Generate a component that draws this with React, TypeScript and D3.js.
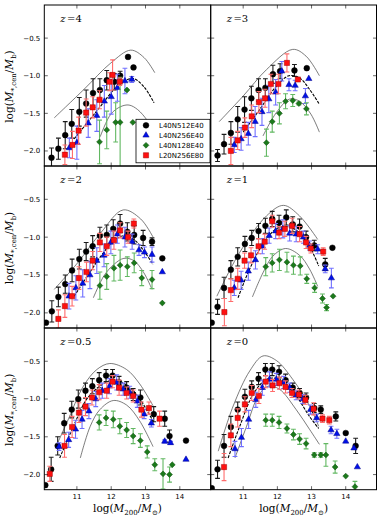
import * as d3 from "d3";

// each point: [log M200, log(M*cen/Mb), error]
const z4Black = [[10.26,-2.09,0.13],[10.46,-1.97,0.14],[10.66,-1.79,0.18],[10.85,-1.64,0.19],[11.07,-1.48,0.19],[11.27,-1.37,0.18],[11.47,-1.23,0.19],[11.67,-1.19,0.15],[11.87,-1.06,0.13],[12.09,-1.08,0.11],[12.26,-1.0,0.06],[12.49,-0.75,0],[12.65,-0.89,0]];
const z4Blue = [[10.78,-1.96,0.13],[11.0,-1.89,0.22],[11.33,-1.63,0.19],[11.58,-1.53,0.21],[11.8,-1.34,0.21],[12.0,-1.28,0.23],[12.18,-1.16,0.18],[12.4,-1.07,0.17],[12.6,-1.05,0.04]];
const z4Green = [[11.66,-1.88,0.29],[11.87,-1.72,0.25],[12.13,-1.62,0.26],[12.26,-1.62,0.6],[12.46,-1.19,0],[12.63,-1.62,0]];
const z4Red = [[10.65,-2.05,0.13],[10.87,-1.92,0.18],[11.05,-1.73,0.18],[11.27,-1.49,0.18],[11.46,-1.42,0.14],[11.66,-1.32,0.12],[11.95,-1.08,0.12],[12.04,-0.99,0.2],[12.25,-1.08,0.05]];

const z3Black = [[10.25,-2.06,0.08],[10.44,-1.91,0.13],[10.64,-1.76,0.15],[10.84,-1.58,0.17],[11.04,-1.45,0.17],[11.24,-1.3,0.16],[11.45,-1.19,0.15],[11.65,-1.16,0.12],[11.87,-0.98,0.12],[12.08,-0.94,0.1],[12.5,-0.93,0.08],[12.86,-0.9,0]];
const z3Blue = [[10.74,-1.92,0.1],[10.94,-1.84,0.15],[11.15,-1.77,0.15],[11.35,-1.61,0.2],[11.55,-1.48,0.18],[11.75,-1.31,0.18],[11.95,-1.22,0.17],[12.13,-0.94,0.13],[12.34,-1.12,0.08],[12.52,-1.13,0.07],[12.82,-1.27,0.1],[12.92,-1.04,0]];
const z3Green = [[11.68,-1.89,0.18],[11.85,-1.61,0.14],[12.06,-1.5,0.14],[12.24,-1.34,0.1],[12.45,-1.33,0.08],[12.63,-1.37,0.02],[12.85,-1.44,0.08]];
const z3Red = [[10.64,-2.0,0.18],[10.84,-1.86,0.12],[11.05,-1.69,0.13],[11.25,-1.54,0.15],[11.46,-1.35,0.14],[11.64,-1.3,0.12],[11.81,-1.11,0.13],[12.03,-1.11,0.13],[12.28,-0.83,0.12],[12.6,-1.05,0.02]];

const z2Black = [[10.1,-2.13,0],[10.27,-1.98,0.14],[10.46,-1.79,0.13],[10.66,-1.62,0.12],[10.86,-1.44,0.15],[11.07,-1.29,0.13],[11.27,-1.19,0.12],[11.46,-1.12,0.14],[11.67,-0.98,0.11],[11.87,-0.97,0.13],[12.06,-0.89,0.12],[12.26,-0.82,0.12],[12.47,-0.93,0.12],[12.67,-0.97,0.12],[12.93,-1.01,0.1],[13.19,-1.06,0.05],[13.49,-1.28,0]];
const z2Blue = [[10.77,-1.78,0.17],[10.97,-1.67,0.16],[11.17,-1.61,0.18],[11.38,-1.5,0.18],[11.58,-1.31,0.17],[11.79,-1.24,0.15],[11.99,-1.07,0.15],[12.18,-0.96,0.12],[12.4,-1.0,0.13],[12.61,-1.06,0.1],[12.81,-1.17,0.07],[12.97,-1.2,0.07],[13.19,-1.23,0.1],[13.49,-1.46,0]];
const z2Green = [[11.67,-1.64,0.18],[11.87,-1.52,0.17],[12.08,-1.41,0.17],[12.26,-1.37,0.2],[12.47,-1.39,0.13],[12.67,-1.34,0.13],[12.89,-1.54,0.1],[13.19,-1.56,0.12],[13.49,-1.87,0]];
const z2Red = [[10.46,-2.08,0.12],[10.65,-1.91,0.15],[10.86,-1.78,0.13],[11.06,-1.54,0.15],[11.28,-1.46,0.13],[11.46,-1.31,0.12],[11.67,-1.07,0.12],[11.87,-1.12,0.12],[12.08,-1.04,0.12],[12.26,-0.91,0.1],[12.49,-1.0,0.08],[12.66,-0.82,0.06]];

const z1Black = [[10.08,-2.13,0],[10.25,-1.92,0.1],[10.44,-1.67,0.14],[10.64,-1.43,0.12],[10.84,-1.26,0.12],[11.05,-1.09,0.1],[11.25,-1.01,0.1],[11.45,-0.92,0.1],[11.65,-0.85,0.1],[11.85,-0.76,0.1],[12.05,-0.81,0.1],[12.26,-0.74,0.1],[12.45,-0.83,0.1],[12.65,-0.86,0.1],[12.84,-1.0,0.08],[13.08,-1.11,0.07],[13.4,-1.36,0.08],[13.61,-1.14,0]];
const z1Blue = [[10.74,-1.67,0.1],[10.94,-1.57,0.12],[11.15,-1.45,0.12],[11.36,-1.3,0.12],[11.56,-1.12,0.1],[11.76,-0.98,0.1],[11.95,-0.92,0.1],[12.16,-0.89,0.12],[12.36,-0.95,0.1],[12.55,-0.96,0.1],[12.76,-1.0,0.08],[12.94,-1.11,0.06],[13.18,-1.16,0.06],[13.4,-1.42,0.05],[13.58,-1.54,0.13]];
const z1Green = [[11.66,-1.39,0.12],[11.85,-1.34,0.12],[12.06,-1.3,0.14],[12.28,-1.33,0.13],[12.47,-1.37,0.12],[12.67,-1.38,0.12],[12.86,-1.55,0.06],[13.09,-1.67,0.06],[13.32,-1.81,0.06],[13.44,-1.93,0.04],[13.63,-1.78,0]];
const z1Red = [[10.45,-1.99,0.18],[10.64,-1.7,0.15],[10.84,-1.55,0.14],[11.04,-1.31,0.1],[11.23,-1.24,0.1],[11.45,-1.12,0.1],[11.63,-1.06,0.1],[11.85,-0.79,0.08],[12.05,-0.94,0.08],[12.22,-0.89,0.1],[12.43,-0.85,0.1],[12.65,-0.96,0.1],[12.84,-1.07,0.08],[12.98,-1.15,0.06],[13.34,-1.19,0.05]];

const z05Black = [[10.08,-2.14,0],[10.25,-1.93,0.16],[10.44,-1.62,0.12],[10.63,-1.32,0.13],[10.85,-1.14,0.11],[11.04,-1.0,0.12],[11.25,-0.89,0.1],[11.45,-0.83,0.1],[11.65,-0.75,0.1],[11.85,-0.69,0.08],[12.04,-0.69,0.08],[12.23,-0.78,0.08],[12.45,-0.85,0.08],[12.64,-0.94,0.08],[12.85,-0.98,0.1],[13.24,-1.2,0.1],[13.56,-1.26,0.1],[13.7,-1.49,0.08],[14.18,-1.55,0]];
const z05Blue = [[10.48,-1.63,0.05],[10.76,-1.54,0.1],[10.96,-1.4,0.12],[11.15,-1.27,0.12],[11.35,-1.16,0.1],[11.55,-1.0,0.1],[11.74,-0.89,0.1],[11.95,-0.83,0.1],[12.16,-0.78,0.1],[12.35,-0.87,0.08],[12.54,-0.91,0.08],[12.76,-1.03,0.08],[12.96,-1.2,0.06],[13.17,-1.32,0.05],[13.56,-1.56,0.02],[13.73,-1.58,0.02],[14.18,-1.8,0]];
const z05Green = [[11.65,-1.31,0.1],[11.85,-1.25,0.1],[12.06,-1.27,0.11],[12.25,-1.36,0.1],[12.45,-1.41,0.1],[12.64,-1.49,0.1],[12.85,-1.55,0.09],[13.05,-1.7,0.08],[13.27,-1.87,0.08],[13.51,-1.99,0.2],[13.7,-2.0,0.1],[13.78,-1.87,0]];
const z05Red = [[10.21,-1.99,0.1],[10.64,-1.62,0.15],[10.86,-1.37,0.14],[11.06,-1.18,0.13],[11.25,-1.1,0.12],[11.44,-0.98,0.1],[11.65,-0.91,0.1],[11.87,-0.89,0.1],[12.04,-0.77,0.08],[12.23,-0.85,0.1],[12.45,-0.92,0.08],[12.64,-0.96,0.08],[12.88,-1.14,0.1],[13.1,-1.12,0.08],[13.41,-1.26,0.1]];

const z0Black = [[10.08,-2.18,0],[10.25,-1.93,0.12],[10.44,-1.62,0.15],[10.64,-1.37,0.14],[10.84,-1.14,0.1],[11.05,-0.97,0.1],[11.25,-0.84,0.08],[11.45,-0.73,0.08],[11.65,-0.61,0.08],[11.85,-0.61,0.08],[12.05,-0.64,0.08],[12.24,-0.75,0.08],[12.45,-0.85,0.06],[12.65,-0.92,0.06],[12.84,-0.98,0.06],[13.08,-1.12,0.06],[13.27,-1.14,0.05],[13.71,-1.23,0.06],[14.0,-1.45,0],[14.29,-1.62,0.1]];
const z0Blue = [[10.76,-1.66,0.1],[10.95,-1.51,0.12],[11.16,-1.27,0.12],[11.37,-1.01,0.1],[11.56,-0.85,0.1],[11.77,-0.74,0.1],[11.97,-0.74,0.08],[12.18,-0.78,0.08],[12.36,-0.85,0.06],[12.55,-0.95,0.06],[12.74,-1.0,0.06],[12.97,-1.14,0.06],[13.15,-1.25,0.05],[13.57,-1.41,0.05],[13.74,-1.46,0.06],[14.0,-1.56,0],[14.24,-1.65,0],[14.34,-1.9,0]];
const z0Green = [[11.66,-1.28,0.08],[11.85,-1.28,0.08],[12.05,-1.31,0.08],[12.28,-1.39,0.06],[12.47,-1.47,0.07],[12.65,-1.53,0.07],[12.84,-1.59,0.07],[13.08,-1.74,0.03],[13.27,-1.74,0.03],[13.42,-1.74,0.15],[13.69,-1.9,0.08],[14.0,-2.02,0],[14.27,-2.16,0.07]];
const z0Red = [[10.44,-1.9,0.18],[10.64,-1.48,0.15],[10.84,-1.25,0.12],[11.05,-1.07,0.1],[11.25,-0.92,0.1],[11.46,-0.96,0.1],[11.66,-0.77,0.08],[11.86,-0.82,0.08],[12.06,-0.79,0.08],[12.24,-0.84,0.08],[12.43,-0.92,0.06],[12.63,-0.94,0.06],[12.82,-1.01,0.06],[13.06,-1.13,0.08],[13.32,-1.26,0.05],[13.52,-1.28,0.05]];

// abundance-matching relation (middle) and its envelope
const z4Upper = [[10.34,-1.56],[11.21,-1.18],[11.99,-0.83],[12.57,-0.66],[12.96,-0.76],[13.27,-0.96]];
const z4Mid = [[10.92,-1.84],[11.31,-1.62],[11.7,-1.4],[12.09,-1.18],[12.48,-1.05],[12.67,-1.04],[12.96,-1.15],[13.25,-1.36]];
const z4Low = [[11.68,-1.81],[11.99,-1.51],[12.28,-1.41],[12.52,-1.39],[12.77,-1.45],[13.06,-1.6],[13.25,-1.75]];
const z3Upper = [[10.3,-1.61],[11.0,-1.27],[11.68,-0.92],[12.45,-0.65],[12.84,-0.74],[13.23,-1.0]];
const z3Mid = [[11.0,-1.75],[11.48,-1.45],[11.97,-1.14],[12.34,-1.0],[12.65,-1.03],[12.94,-1.18],[13.23,-1.38]];
const z3Low = [[11.58,-1.8],[11.97,-1.49],[12.36,-1.31],[12.65,-1.34],[12.98,-1.51],[13.23,-1.75]];
const z2Upper = [[10.34,-1.69],[11.02,-1.34],[11.7,-0.94],[12.35,-0.64],[12.86,-0.76],[13.22,-1.0]];
const z2Mid = [[10.92,-1.78],[11.31,-1.51],[11.7,-1.25],[12.08,-1.05],[12.37,-0.98],[12.66,-1.03],[12.95,-1.18],[13.22,-1.36]];
const z2Low = [[11.48,-1.8],[11.79,-1.51],[12.08,-1.36],[12.37,-1.28],[12.66,-1.31],[12.95,-1.47],[13.19,-1.69]];
const z1Upper = [[10.23,-1.78],[10.9,-1.2],[11.68,-0.72],[12.18,-0.58],[12.65,-0.72],[13.18,-1.03]];
const z1Mid = [[10.85,-1.8],[11.19,-1.42],[11.58,-1.09],[11.97,-0.89],[12.31,-0.86],[12.65,-0.94],[12.94,-1.12],[13.21,-1.38]];
const z1Low = [[11.27,-1.79],[11.58,-1.47],[11.87,-1.25],[12.24,-1.15],[12.65,-1.24],[12.94,-1.42],[13.18,-1.65]];
const z05Upper = [[10.37,-1.65],[10.71,-1.31],[11.19,-0.83],[11.58,-0.61],[11.96,-0.53],[12.45,-0.61],[12.83,-0.8],[13.22,-1.09]];
const z05Mid = [[10.5,-1.78],[10.9,-1.36],[11.29,-1.0],[11.67,-0.83],[11.96,-0.76],[12.35,-0.79],[12.74,-0.94],[13.03,-1.14],[13.24,-1.31]];
const z05Low = [[11.1,-1.78],[11.39,-1.36],[11.67,-1.14],[12.06,-1.02],[12.45,-1.08],[12.83,-1.29],[13.22,-1.63]];
const z0Upper = [[10.27,-1.69],[10.71,-1.09],[11.19,-0.63],[11.58,-0.43],[11.97,-0.49],[12.45,-0.74],[12.94,-1.09],[13.21,-1.36]];
const z0Mid = [[10.56,-1.78],[10.9,-1.36],[11.29,-0.94],[11.68,-0.74],[12.06,-0.74],[12.55,-0.96],[12.94,-1.23],[13.21,-1.39]];
const z0Low = [[10.76,-1.78],[11.1,-1.36],[11.44,-0.96],[11.73,-0.83],[12.06,-0.87],[12.55,-1.14],[12.94,-1.4],[13.23,-1.6]];

const redshifts = ["4", "3", "2", "1", "0.5", "0"];
const seriesNames = ["L40N512E40", "L40N256E40", "L40N128E40", "L20N256E80"];
const xTicks = [11, 12, 13, 14];
const yTicks = [-2.0, -1.5, -1.0, -0.5];

const panels = [
  { pts: [z4Black, z4Blue, z4Green, z4Red], curves: [z4Upper, z4Mid, z4Low] },
  { pts: [z3Black, z3Blue, z3Green, z3Red], curves: [z3Upper, z3Mid, z3Low] },
  { pts: [z2Black, z2Blue, z2Green, z2Red], curves: [z2Upper, z2Mid, z2Low] },
  { pts: [z1Black, z1Blue, z1Green, z1Red], curves: [z1Upper, z1Mid, z1Low] },
  { pts: [z05Black, z05Blue, z05Green, z05Red], curves: [z05Upper, z05Mid, z05Low] },
  { pts: [z0Black, z0Blue, z0Green, z0Red], curves: [z0Upper, z0Mid, z0Low] },
];

const colEdges = [44.3, 210.7, 376.5];
const rowEdges = [5, 166, 328, 489.7];

const styles = [
  { type: d3.symbolCircle, size: 26, rot: 0, fill: "#000", stroke: "#000", bar: "#1a1a1a" },
  { type: d3.symbolTriangle, size: 17, rot: 0, fill: "#0010e8", stroke: "#00008b", bar: "#6f6fff" },
  { type: d3.symbolSquare, size: 17, rot: 45, fill: "#1b7a1b", stroke: "#0b4d0b", bar: "#62b862" },
  { type: d3.symbolSquare, size: 27, rot: 0, fill: "#ff1010", stroke: "#a00000", bar: "#ff6c6c" },
];

const fmt = d3.format(".1f");
const serif = "'DejaVu Serif', serif";
const sans = "'DejaVu Sans', sans-serif";

function Panel({ i }: { i: number }) {
  const col = i % 2;
  const row = Math.floor(i / 2);
  const x0 = colEdges[col], x1 = colEdges[col + 1];
  const y0 = rowEdges[row], y1 = rowEdges[row + 1];
  const xs = d3.scaleLinear().domain([10.05, 14.9]).range([x0, x1]);
  const ys = d3.scaleLinear().domain([-2.2, -0.06]).range([y1, y0]);
  const line = d3
    .line<number[]>()
    .x((d) => xs(d[0]))
    .y((d) => ys(d[1]))
    .curve(d3.curveCatmullRom.alpha(0.5));
  const p = panels[i];
  const clip = `clip${i}`;
  const tl = 3.5;

  return (
    <g>
      <clipPath id={clip}>
        <rect x={x0} y={y0} width={x1 - x0} height={y1 - y0} />
      </clipPath>
      <g clipPath={`url(#${clip})`}>
        {p.curves.map((c, k) => (
          <path
            key={k}
            d={line(c) || ""}
            fill="none"
            stroke={k === 1 ? "#000" : "#444"}
            strokeWidth={k === 1 ? 1.1 : 0.7}
            strokeDasharray={k === 1 ? "3,1.2" : undefined}
          />
        ))}
        {p.pts.map((ser, s) => {
          const st = styles[s];
          const sym = d3.symbol().type(st.type).size(st.size)() || "";
          return (
            <g key={s}>
              {ser.filter((d) => d[2] > 0).map((d, k) => {
                const cx = xs(d[0]);
                const ya = ys(d[1] + d[2]);
                const yb = ys(d[1] - d[2]);
                return (
                  <g key={k} stroke={st.bar} strokeWidth={1.1}>
                    <line x1={cx} x2={cx} y1={ya} y2={yb} />
                    <line x1={cx - 2.4} x2={cx + 2.4} y1={ya} y2={ya} />
                    <line x1={cx - 2.4} x2={cx + 2.4} y1={yb} y2={yb} />
                  </g>
                );
              })}
              {ser.map((d, k) => (
                <path
                  key={k}
                  d={sym}
                  transform={`translate(${xs(d[0])},${ys(d[1])}) rotate(${st.rot})`}
                  fill={st.fill}
                  stroke={st.stroke}
                  strokeWidth={0.5}
                />
              ))}
            </g>
          );
        })}
      </g>
      <rect x={x0} y={y0} width={x1 - x0} height={y1 - y0} fill="none" stroke="#000" strokeWidth={1} />
      {xTicks.map((t) => (
        <g key={t} stroke="#000" strokeWidth={0.6}>
          <line x1={xs(t)} x2={xs(t)} y1={y1} y2={y1 - tl} />
          <line x1={xs(t)} x2={xs(t)} y1={y0} y2={y0 + tl} />
        </g>
      ))}
      {yTicks.map((t) => (
        <g key={t} stroke="#000" strokeWidth={0.6}>
          <line x1={x0} x2={x0 + tl} y1={ys(t)} y2={ys(t)} />
          <line x1={x1} x2={x1 - tl} y1={ys(t)} y2={ys(t)} />
        </g>
      ))}
      {col === 0 &&
        yTicks.map((t) => (
          <text key={t} x={x0 - 4} y={ys(t)} dy="0.35em" textAnchor="end" fontSize={7} fontFamily={sans}>
            {fmt(t)}
          </text>
        ))}
      {row === 2 &&
        xTicks.map((t) => (
          <text key={t} x={xs(t)} y={y1 + 9} textAnchor="middle" fontSize={7} fontFamily={sans}>
            {t}
          </text>
        ))}
      <text x={x0 + 16} y={y0 + 16.5} fontSize={10} fontFamily={serif}>
        <tspan fontStyle="italic">z</tspan>
        <tspan dx={1.5}>=</tspan>
        <tspan>{redshifts[i]}</tspan>
      </text>
      {col === 0 && (
        <text
          transform={`translate(13,${(y0 + y1) / 2 + 1}) rotate(-90)`}
          textAnchor="middle"
          fontSize={10.5}
          fontFamily={serif}
        >
          log(<tspan fontStyle="italic">M</tspan>
          <tspan fontSize={7} dy={2.5}>*,cen</tspan>
          <tspan dy={-2.5}>/</tspan>
          <tspan fontStyle="italic">M</tspan>
          <tspan fontSize={7} dy={2.5}>b</tspan>
          <tspan dy={-2.5}>)</tspan>
        </text>
      )}
      {row === 2 && (
        <text x={(x0 + x1) / 2} y={512} textAnchor="middle" fontSize={10.5} fontFamily={serif}>
          log(<tspan fontStyle="italic">M</tspan>
          <tspan fontSize={7} dy={2.5}>200</tspan>
          <tspan dy={-2.5}>/</tspan>
          <tspan fontStyle="italic">M</tspan>
          <tspan fontSize={7} dy={2.5}>⊙</tspan>
          <tspan dy={-2.5}>)</tspan>
        </text>
      )}
    </g>
  );
}

function Legend() {
  const lx = 136, ly = 119.3, lw = 74, lh = 43.5;
  return (
    <g>
      <rect x={lx} y={ly} width={lw} height={lh} fill="#fff" stroke="#000" strokeWidth={0.8} />
      {seriesNames.map((n, k) => {
        const st = styles[k];
        const sym = d3.symbol().type(st.type).size(st.size)() || "";
        const cy = ly + 6 + k * 10;
        return (
          <g key={n}>
            <path d={sym} transform={`translate(${lx + 10},${cy}) rotate(${st.rot})`} fill={st.fill} stroke={st.stroke} strokeWidth={0.5} />
            <text x={lx + 23} y={cy} dy="0.35em" fontSize={7} fontFamily={sans}>
              {n}
            </text>
          </g>
        );
      })}
    </g>
  );
}

export default function App() {
  return (
    <svg
      width={382}
      height={521}
      style={{ position: "absolute", left: 0, top: 0, background: "#fff" }}
    >
      <rect width={382} height={521} fill="#fff" />
      {panels.map((_, i) => (
        <Panel key={i} i={i} />
      ))}
      <Legend />
    </svg>
  );
}
